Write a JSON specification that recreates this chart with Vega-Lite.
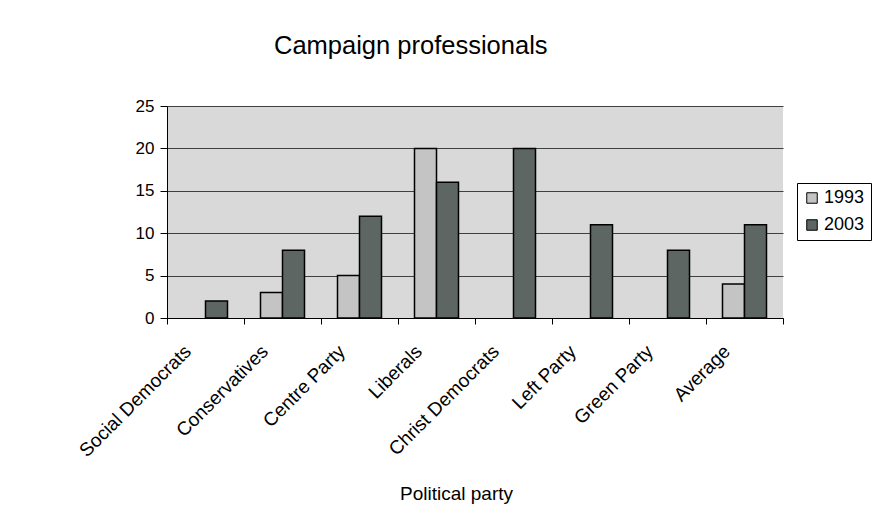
{
  "$schema": "https://vega.github.io/schema/vega-lite/v6.json",
  "width": 616,
  "height": 212,
  "autosize": {"type": "none"},
  "padding": {"left": 167, "top": 106, "right": 90, "bottom": 207},
  "background": "white",
  "title": {
    "text": "Campaign professionals",
    "anchor": "start",
    "frame": "group",
    "dx": 107,
    "offset": 38,
    "fontSize": 25.5,
    "font": "Liberation Sans",
    "fontWeight": "normal",
    "color": "black"
  },
  "data": {
    "values": [
      {"party": "Social Democrats", "year": "2003", "value": 2},
      {"party": "Conservatives", "year": "1993", "value": 3},
      {"party": "Conservatives", "year": "2003", "value": 8},
      {"party": "Centre Party", "year": "1993", "value": 5},
      {"party": "Centre Party", "year": "2003", "value": 12},
      {"party": "Liberals", "year": "1993", "value": 20},
      {"party": "Liberals", "year": "2003", "value": 16},
      {"party": "Christ Democrats", "year": "2003", "value": 20},
      {"party": "Left Party", "year": "2003", "value": 11},
      {"party": "Green Party", "year": "2003", "value": 8},
      {"party": "Average", "year": "1993", "value": 4},
      {"party": "Average", "year": "2003", "value": 11}
    ]
  },
  "mark": {"type": "bar", "stroke": "black", "strokeWidth": 1.5},
  "encoding": {
    "x": {
      "field": "party",
      "type": "nominal",
      "sort": null,
      "scale": {"paddingInner": 0, "paddingOuter": 0},
      "axis": {
        "title": "Political party",
        "titleFont": "Liberation Sans",
        "titleFontSize": 19,
        "titleFontWeight": "normal",
        "titleColor": "black",
        "titleX": 289,
        "titleY": 175,
        "titleBaseline": "middle",
        "labelAngle": -45,
        "labelAlign": "right",
        "labelBaseline": "middle",
        "labelFont": "Liberation Sans",
        "labelFontSize": 19,
        "labelColor": "black",
        "labelPadding": 24,
        "labelOffset": -18,
        "tickBand": "extent",
        "tickColor": "black",
        "tickSize": 6,
        "domainColor": "black",
        "grid": false
      }
    },
    "xOffset": {"field": "year", "type": "nominal", "scale": {"paddingInner": 0, "paddingOuter": 0.75}},
    "y": {
      "field": "value",
      "type": "quantitative",
      "scale": {"domain": [0, 25], "nice": false},
      "axis": {
        "title": null,
        "values": [0, 5, 10, 15, 20, 25],
        "labelFont": "Liberation Sans",
        "labelFontSize": 17,
        "labelColor": "black",
        "labelPadding": 6,
        "tickColor": "black",
        "tickSize": 7,
        "domainColor": "black",
        "grid": true,
        "gridColor": "#404040",
        "gridOpacity": 1,
        "gridWidth": 1
      }
    },
    "fill": {
      "field": "year",
      "type": "nominal",
      "scale": {"domain": ["1993", "2003"], "range": ["#c4c4c4", "#5e6663"]},
      "legend": {
        "title": null,
        "orient": "none",
        "legendX": 630,
        "legendY": 77,
        "symbolType": "square",
        "symbolSize": 110,
        "symbolStrokeColor": "black",
        "symbolStrokeWidth": 1,
        "labelFont": "Liberation Sans",
        "labelFontSize": 18,
        "labelColor": "black",
        "labelOffset": 3,
        "rowPadding": 9,
        "padding": 6,
        "strokeColor": "black",
        "fillColor": "white"
      }
    }
  },
  "config": {
    "view": {"fill": "#d9d9d9", "stroke": null},
    "axis": {"domainWidth": 1, "tickWidth": 1}
  }
}
